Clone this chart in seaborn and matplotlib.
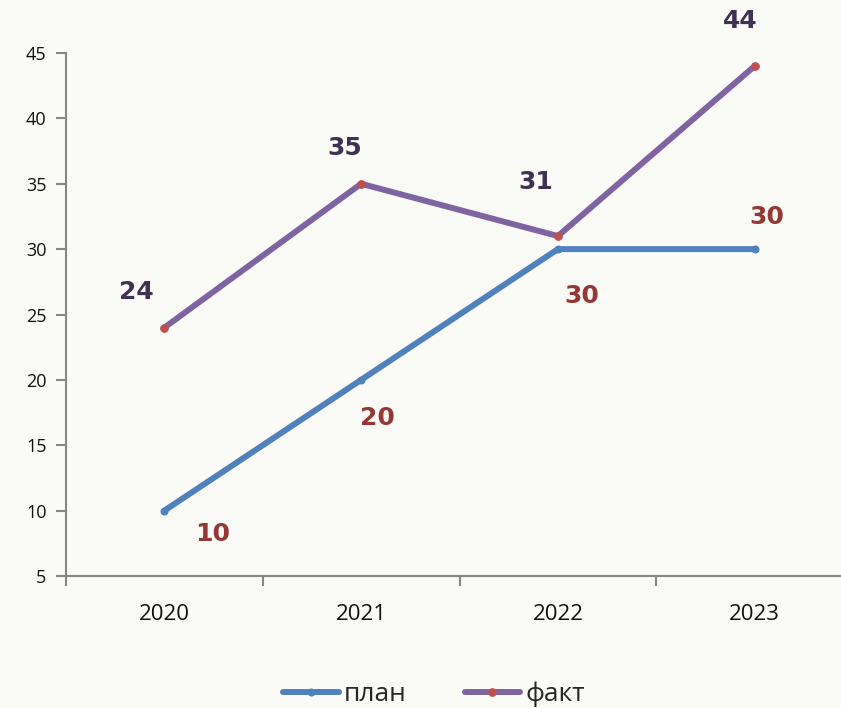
import numpy as np
import pandas as pd
import matplotlib.pyplot as plt
import seaborn as sns
from matplotlib.ticker import FixedLocator

years = ["2020", "2021", "2022", "2023"]
plan = [10, 20, 30, 30]
fact = [24, 35, 31, 44]
y_ticks = [5, 10, 15, 20, 25, 30, 35, 40, 45]

# label offsets in pixels (dx, dy) - placed by hand like in the original
plan_off = [(48, -23), (16, -38), (24, -47), (12, 32)]
fact_off = [(-28, 36), (-16, 36), (-22, 54), (-14, 45)]

sns.set_style("white")
plt.rcParams['font.family'] = ['Open Sans', 'DejaVu Sans']

bg = "#FAFAF7"
fig = plt.figure(figsize=(8.41, 7.08), dpi=100, facecolor=bg)
ax = fig.add_axes([66 / 841, 132 / 708, 787 / 841, 523 / 708], facecolor=bg)

xs = np.arange(len(years))
df = pd.DataFrame({"x": xs, "plan": plan, "fact": fact})

sns.lineplot(data=df, x="x", y="plan", ax=ax, color="#4F81BD", linewidth=4.3,
             marker="o", markersize=5, markerfacecolor="#4F81BD",
             markeredgecolor="#4F81BD", label="план", solid_capstyle="round")
sns.lineplot(data=df, x="x", y="fact", ax=ax, color="#8064A2", linewidth=4.3,
             marker="o", markersize=5.5, markerfacecolor="#C0504D",
             markeredgecolor="#C0504D", label="факт", solid_capstyle="round")

for x, v, (dx, dy) in zip(xs, plan, plan_off):
    ax.annotate(str(v), (x, v), xytext=(dx, dy), textcoords="offset pixels",
                ha="center", va="center", fontsize=18, fontweight="bold",
                color="#953735", family="DejaVu Sans")
for x, v, (dx, dy) in zip(xs, fact, fact_off):
    ax.annotate(str(v), (x, v), xytext=(dx, dy), textcoords="offset pixels",
                ha="center", va="center", fontsize=18, fontweight="bold",
                color="#3F3151", family="DejaVu Sans")

ax.set_xlim(-0.5, 3.5)
ax.set_ylim(5, 45)
ax.set_yticks(y_ticks)
ax.set_yticklabels([str(t) for t in y_ticks])
ax.set_xticks(xs)
ax.set_xticklabels(years)
ax.xaxis.set_minor_locator(FixedLocator([-0.5, 0.5, 1.5, 2.5, 3.5]))
ax.tick_params(axis="x", which="both", bottom=True)
ax.tick_params(axis="y", which="both", left=True)
ax.tick_params(axis="x", which="major", length=0, pad=20, labelsize=16, labelcolor="#111111")
ax.tick_params(axis="x", which="minor", length=7, width=1.5, color="#868686", direction="out")
ax.tick_params(axis="y", length=7, width=1.5, color="#868686", direction="out",
               pad=7, labelsize=13, labelcolor="#111111")
ax.set_xlabel("")
ax.set_ylabel("")

for s in ["top", "right"]:
    ax.spines[s].set_visible(False)
for s in ["left", "bottom"]:
    ax.spines[s].set_color("#868686")
    ax.spines[s].set_linewidth(1.5)

ax.get_legend().remove()
handles, labels = ax.get_legend_handles_labels()
fig.legend(handles, labels, loc="center", bbox_to_anchor=(434 / 841, 14 / 708),
           ncol=2, frameon=False, fontsize=19, handlelength=2.1,
           handletextpad=0.2, columnspacing=2.2)

fig.savefig("out.png", dpi=100, facecolor=bg)
